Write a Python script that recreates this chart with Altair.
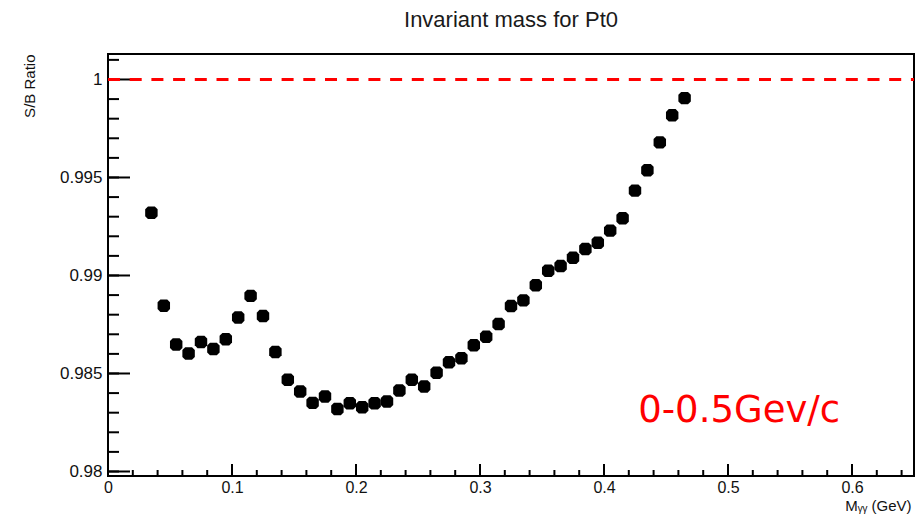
import altair as alt
import pandas as pd

# ---- data ----
mass = [0.035, 0.045, 0.055, 0.065, 0.075, 0.085, 0.095, 0.105, 0.115, 0.125,
        0.135, 0.145, 0.155, 0.165, 0.175, 0.185, 0.195, 0.205, 0.215, 0.225,
        0.235, 0.245, 0.255, 0.265, 0.275, 0.285, 0.295, 0.305, 0.315, 0.325,
        0.335, 0.345, 0.355, 0.365, 0.375, 0.385, 0.395, 0.405, 0.415, 0.425,
        0.435, 0.445, 0.455, 0.465]
ratio = [0.99320, 0.98846, 0.98648, 0.98602, 0.98661, 0.98625, 0.98675, 0.98786, 0.98896, 0.98793,
         0.98610, 0.98468, 0.98408, 0.98350, 0.98383, 0.98319, 0.98348, 0.98328, 0.98348, 0.98357,
         0.98413, 0.98468, 0.98434, 0.98504, 0.98557, 0.98578, 0.98644, 0.98687, 0.98752, 0.98844,
         0.98873, 0.98950, 0.99024, 0.99048, 0.99090, 0.99135, 0.99167, 0.99229, 0.99292, 0.99433,
         0.99537, 0.99679, 0.99817, 0.99905]

x_major = [0.0, 0.1, 0.2, 0.3, 0.4, 0.5, 0.6]
x_minor = [0.0, 0.02, 0.04, 0.06, 0.08, 0.1, 0.12, 0.14, 0.16, 0.18, 0.2, 0.22, 0.24,
           0.26, 0.28, 0.3, 0.32, 0.34, 0.36, 0.38, 0.4, 0.42, 0.44, 0.46, 0.48, 0.5,
           0.52, 0.54, 0.56, 0.58, 0.6, 0.62, 0.64]
y_major = [0.98, 0.985, 0.99, 0.995, 1.0]
y_minor = [0.980, 0.981, 0.982, 0.983, 0.984, 0.985, 0.986, 0.987, 0.988, 0.989, 0.990,
           0.991, 0.992, 0.993, 0.994, 0.995, 0.996, 0.997, 0.998, 0.999, 1.000, 1.001]
ref_line = [1.0]

label_text = ["0-0.5Gev/c"]
label_x = [0.509]
label_y = [0.9825]

W, H = 806, 422
xscale = alt.Scale(domain=[0, 0.65], nice=False, zero=False)
yscale = alt.Scale(domain=[0.97977, 1.0013], nice=False, zero=False)

XT = "Mᵧᵧ (GeV)"
YT = "S/B Ratio"

xaxis = alt.Axis(
    values=x_major, labelExpr="format(datum.value, '.1~f')",
    ticks=False, domain=False, grid=False, labelFlush=False,
    labelFont="Liberation Sans", labelFontSize=16, labelColor="#111",
    labelPadding=3,
    title=XT, titleFont="Liberation Sans", titleFontSize=15,
    titleFontWeight="normal", titleColor="#111",
    titleAnchor="end", titleAlign="right", titleBaseline="alphabetic",
    titleX=803, titleY=34)
yaxis = alt.Axis(
    values=y_major, labelExpr="format(datum.value, '.3~f')",
    ticks=False, domain=False, grid=False, labelFlush=False,
    labelFont="Liberation Sans", labelFontSize=17, labelColor="#111",
    labelPadding=6,
    title=YT, titleFont="Liberation Sans", titleFontSize=15,
    titleFontWeight="normal", titleColor="#111",
    titleAngle=270, titleAlign="right", titleBaseline="alphabetic",
    titleX=-74, titleY=0)

OCT = "M -0.55 -1 L 0.55 -1 L 1 -0.55 L 1 0.55 L 0.55 1 L -0.55 1 L -1 0.55 L -1 -0.55 Z"

df = pd.DataFrame({"m": mass, "r": ratio})

points = alt.Chart(df).mark_point(
    shape=OCT, filled=True, size=155, color="black", opacity=1
).encode(
    x=alt.X("m:Q", scale=xscale, axis=xaxis, title=XT),
    y=alt.Y("r:Q", scale=yscale, axis=yaxis, title=YT),
)

xt_major = alt.Chart(pd.DataFrame({"v": x_major})).mark_rule(color="black", strokeWidth=2).encode(
    x=alt.X("v:Q", scale=xscale, axis=xaxis, title=XT), y=alt.value(H), y2=alt.value(H - 12))
xt_minor = alt.Chart(pd.DataFrame({"v": x_minor})).mark_rule(color="black", strokeWidth=2).encode(
    x=alt.X("v:Q", scale=xscale, axis=xaxis, title=XT), y=alt.value(H), y2=alt.value(H - 6))
yt_major = alt.Chart(pd.DataFrame({"v": y_major})).mark_rule(color="black", strokeWidth=2).encode(
    y=alt.Y("v:Q", scale=yscale, axis=yaxis, title=YT), x=alt.value(0), x2=alt.value(22))
yt_minor = alt.Chart(pd.DataFrame({"v": y_minor})).mark_rule(color="black", strokeWidth=2).encode(
    y=alt.Y("v:Q", scale=yscale, axis=yaxis, title=YT), x=alt.value(0), x2=alt.value(11))

dashed = alt.Chart(pd.DataFrame({"v": ref_line})).mark_rule(
    color="#ff0000", strokeWidth=3, strokeDash=[12, 9.7]
).encode(y=alt.Y("v:Q", scale=yscale, axis=yaxis, title=YT),
         x=alt.value(0), x2=alt.value(W))

label = alt.Chart(pd.DataFrame({"t": label_text, "x": label_x, "y": label_y})).mark_text(
    font="DejaVu Sans", fontSize=37, color="#ff0000", align="center", baseline="alphabetic"
).encode(
    x=alt.X("x:Q", scale=xscale, axis=xaxis, title=XT),
    y=alt.Y("y:Q", scale=yscale, axis=yaxis, title=YT),
    text="t:N")

chart = alt.layer(
    points, xt_minor, xt_major, yt_minor, yt_major, dashed, label
).properties(
    width=W, height=H,
    title=alt.TitleParams("Invariant mass for Pt0", font="Liberation Sans", fontSize=22,
                          fontWeight="normal", color="#1a1a1a", anchor="middle", offset=22),
    padding={"left": 108, "top": 54, "right": 8, "bottom": 44},
    autosize="none",
).configure_view(stroke="black", strokeWidth=2)

chart.save("out.html", embed_options={"renderer": "svg", "actions": False})
